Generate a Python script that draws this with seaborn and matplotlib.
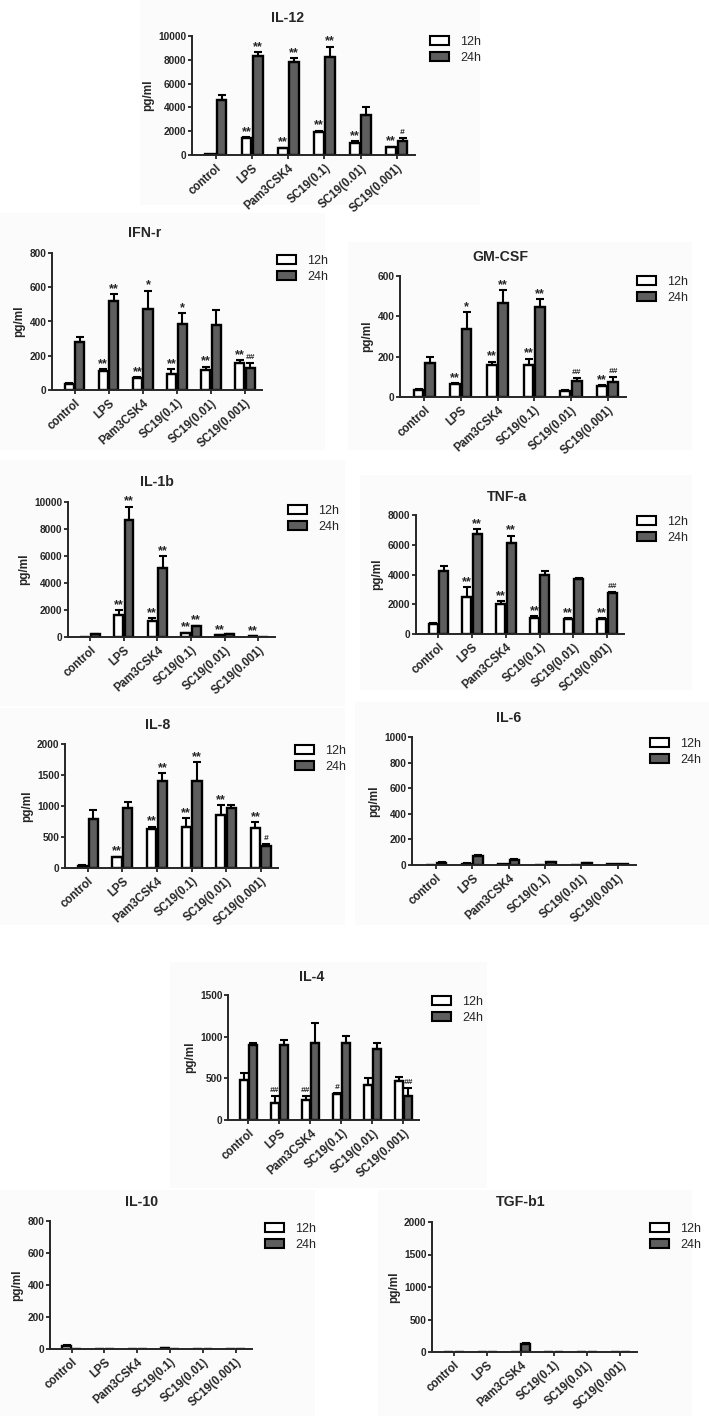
import numpy as np
import pandas as pd
import matplotlib
matplotlib.use('Agg')
import matplotlib.pyplot as plt
from matplotlib.patches import Patch, Rectangle
from matplotlib.container import BarContainer
import seaborn as sns

# ---- data (mean / sem, pg/ml) ----
groups = ['control', 'LPS', 'Pam3CSK4', 'SC19(0.1)', 'SC19(0.01)', 'SC19(0.001)']
times = ['12h', '24h']

il12_12h = [50, 1450, 580, 1950, 1050, 650]
il12_12h_sem = [0, 60, 50, 100, 100, 60]
il12_24h = [4600, 8300, 7800, 8200, 3400, 1150]
il12_24h_sem = [450, 350, 350, 900, 650, 250]
il12_sig12 = ['', '**', '**', '**', '**', '**']
il12_sig24 = ['', '**', '**', '**', '', '#']

ifn_12h = [35, 110, 70, 95, 115, 155]
ifn_12h_sem = [8, 10, 5, 25, 20, 20]
ifn_24h = [280, 520, 475, 385, 380, 130]
ifn_24h_sem = [30, 40, 105, 63, 85, 30]
ifn_sig12 = ['', '**', '**', '**', '**', '**']
ifn_sig24 = ['', '**', '*', '*', '', '##']

gm_12h = [33, 62, 158, 157, 32, 53]
gm_12h_sem = [5, 6, 17, 33, 4, 5]
gm_24h = [168, 335, 467, 445, 77, 75]
gm_24h_sem = [32, 85, 63, 40, 15, 25]
gm_sig12 = ['', '**', '**', '**', '', '**']
gm_sig24 = ['', '*', '**', '**', '##', '##']

il1b_12h = [0, 1600, 1200, 280, 120, 50]
il1b_12h_sem = [0, 400, 200, 40, 20, 10]
il1b_24h = [200, 8700, 5100, 800, 220, 0]
il1b_24h_sem = [30, 950, 900, 50, 30, 0]
il1b_sig12 = ['', '**', '**', '**', '**', '**']
il1b_sig24 = ['', '**', '**', '**', '', '']

tnf_12h = [650, 2500, 2050, 1100, 1000, 1000]
tnf_12h_sem = [100, 650, 150, 100, 50, 50]
tnf_24h = [4250, 6700, 6100, 4000, 3700, 2750]
tnf_24h_sem = [350, 350, 500, 250, 50, 50]
tnf_sig12 = ['', '**', '**', '**', '**', '**']
tnf_sig24 = ['', '**', '**', '', '', '##']

il8_12h = [40, 170, 625, 655, 855, 640]
il8_12h_sem = [5, 10, 40, 145, 155, 95]
il8_24h = [790, 965, 1410, 1405, 960, 355]
il8_24h_sem = [145, 100, 120, 305, 55, 30]
il8_sig12 = ['', '**', '**', '**', '**', '**']
il8_sig24 = ['', '', '**', '**', '', '#']

il6_12h = [2, 10, 6, 3, 3, 6]
il6_12h_sem = [0, 3, 0, 0, 0, 0]
il6_24h = [15, 70, 40, 20, 15, 4]
il6_24h_sem = [5, 10, 5, 4, 3, 0]
il6_sig12 = [''] * 6
il6_sig24 = [''] * 6

il4_12h = [485, 200, 245, 310, 425, 465]
il4_12h_sem = [80, 85, 45, 15, 75, 50]
il4_24h = [905, 895, 925, 930, 850, 290]
il4_24h_sem = [15, 70, 245, 80, 80, 90]
il4_sig12 = ['', '##', '##', '#', '', '']
il4_sig24 = ['', '', '', '', '', '##']

il10_12h = [20, 1, 3, 7, 2, 1]
il10_12h_sem = [5, 0, 0, 2, 0, 0]
il10_24h = [3, 2, 1, 3, 1, 1]
il10_24h_sem = [0, 0, 0, 0, 0, 0]
il10_sig12 = [''] * 6
il10_sig24 = [''] * 6

tgf_12h = [0, 0, 0, 0, 0, 0]
tgf_12h_sem = [0, 0, 0, 0, 0, 0]
tgf_24h = [0, 0, 123, 0, 0, 0]
tgf_24h_sem = [0, 0, 8, 0, 0, 0]
tgf_sig12 = [''] * 6
tgf_sig24 = [''] * 6

# ---- layout in pixels: axes (left, top, right, zero), legend (x, y), title (x, y), panel bg ----
W, H = 709, 1416
panels = [
    ('IL-12', il12_12h, il12_12h_sem, il12_24h, il12_24h_sem, il12_sig12, il12_sig24, 10000, 2000,
     (192, 36, 415, 155), (430, 43), (288, 18), (140, 0, 480, 205)),
    ('IFN-r', ifn_12h, ifn_12h_sem, ifn_24h, ifn_24h_sem, ifn_sig12, ifn_sig24, 800, 200,
     (52, 253, 262, 390), (277, 262), (145, 233), (0, 213, 325, 450)),
    ('GM-CSF', gm_12h, gm_12h_sem, gm_24h, gm_24h_sem, gm_sig12, gm_sig24, 600, 200,
     (400, 276, 626, 397), (637, 283), (500, 257), (348, 242, 692, 450)),
    ('IL-1b', il1b_12h, il1b_12h_sem, il1b_24h, il1b_24h_sem, il1b_sig12, il1b_sig24, 10000, 2000,
     (68, 502, 275, 637), (288, 512), (157, 482), (0, 460, 345, 706)),
    ('TNF-a', tnf_12h, tnf_12h_sem, tnf_24h, tnf_24h_sem, tnf_sig12, tnf_sig24, 8000, 2000,
     (416, 515, 624, 634), (637, 523), (507, 497), (360, 475, 692, 690)),
    ('IL-8', il8_12h, il8_12h_sem, il8_24h, il8_24h_sem, il8_sig12, il8_sig24, 2000, 500,
     (65, 744, 278, 868), (295, 752), (158, 725), (0, 708, 345, 925)),
    ('IL-6', il6_12h, il6_12h_sem, il6_24h, il6_24h_sem, il6_sig12, il6_sig24, 1000, 200,
     (412, 737, 636, 865), (650, 745), (509, 718), (355, 702, 709, 925)),
    ('IL-4', il4_12h, il4_12h_sem, il4_24h, il4_24h_sem, il4_sig12, il4_sig24, 1500, 500,
     (228, 995, 419, 1120), (432, 1003), (312, 977), (170, 962, 487, 1188)),
    ('IL-10', il10_12h, il10_12h_sem, il10_24h, il10_24h_sem, il10_sig12, il10_sig24, 800, 200,
     (50, 1221, 252, 1349), (265, 1230), (142, 1202), (0, 1190, 315, 1416)),
    ('TGF-b1', tgf_12h, tgf_12h_sem, tgf_24h, tgf_24h_sem, tgf_sig12, tgf_sig24, 2000, 500,
     (432, 1222, 637, 1352), (650, 1230), (521, 1202), (378, 1190, 692, 1416)),
]

sns.set_theme(style='ticks')
plt.rcParams['font.family'] = ['Liberation Sans', 'DejaVu Sans']

fill = {'12h': 'white', '24h': '#5e5e5e'}

fig = plt.figure(figsize=(W / 100, H / 100), dpi=100)
fig.patch.set_facecolor('white')


def draw_panel(p):
    (title, m12, s12, m24, s24, sig12, sig24, ymax, ystep,
     rect, leg, tpos, bg) = p

    # very faint panel background from the source images
    fig.patches.append(Rectangle((bg[0] / W, 1 - bg[3] / H), (bg[2] - bg[0]) / W,
                                 (bg[3] - bg[1]) / H, transform=fig.transFigure,
                                 facecolor='#fbfbfb', edgecolor='none', zorder=-5))

    l, t, r, z = rect
    ax = fig.add_axes([l / W, 1 - z / H, (r - l) / W, (z - t) / H])
    ax.set_facecolor('none')

    df = pd.DataFrame({
        'group': groups * 2,
        'time': ['12h'] * 6 + ['24h'] * 6,
        'value': list(m12) + list(m24),
    })
    sns.barplot(data=df, x='group', y='value', hue='time', order=groups, hue_order=times,
                palette=fill, edgecolor='black', linewidth=1.7, width=0.62, gap=0.14,
                errorbar=None, legend=False, ax=ax)

    sems = [s12, s24]
    sigs = [sig12, sig24]
    bar_sets = [c for c in ax.containers if isinstance(c, BarContainer)]
    for k, cont in enumerate(bar_sets):
        for i, bar in enumerate(cont.patches):
            x = bar.get_x() + bar.get_width() / 2
            top = bar.get_height()
            e = sems[k][i]
            if e > 0:
                ax.errorbar(x, top, yerr=[[0], [e]], fmt='none', ecolor='black',
                            elinewidth=1.5, capsize=2.8, capthick=1.5, zorder=1)
            s = sigs[k][i]
            if s:
                if s.startswith('#'):
                    ax.annotate(s, (x, top + e), xytext=(0, 1.5), textcoords='offset points',
                                ha='center', va='bottom', fontsize=6, style='italic',
                                fontweight='bold')
                else:
                    ax.annotate(s, (x, top + e), xytext=(0, -0.5), textcoords='offset points',
                                ha='center', va='bottom', fontsize=9, fontweight='bold')

    ax.set_xlim(-0.66, 5.5)
    ax.set_ylim(0, ymax)
    ax.set_yticks(np.arange(0, ymax + 1, ystep))
    ax.set_xlabel('')
    ax.set_ylabel('pg/ml', fontsize=8.5, fontweight='bold', labelpad=3)
    ax.set_xticks(range(len(groups)))
    ax.set_xticklabels(groups, rotation=42, ha='right', rotation_mode='anchor',
                       fontsize=8.3, fontweight='bold')
    for lab in ax.get_yticklabels():
        lab.set_fontweight('bold')
    ax.tick_params(axis='y', labelsize=7.3, length=3, width=1.3, pad=1)
    ax.tick_params(axis='x', length=3, width=1.3, pad=2)
    sns.despine(ax=ax)
    for sp in ('left', 'bottom'):
        ax.spines[sp].set_linewidth(1.4)

    fig.text(tpos[0] / W, 1 - tpos[1] / H, title, ha='center', va='center',
             fontsize=10.2, fontweight='bold')

    handles = [Patch(facecolor=fill[t_], edgecolor='black', linewidth=1.5, label=t_)
               for t_ in times]
    fig.legend(handles=handles, loc='upper left',
               bbox_to_anchor=(leg[0] / W, 1 - (leg[1] - 7) / H),
               bbox_transform=fig.transFigure, frameon=False, fontsize=9,
               borderpad=0, borderaxespad=0, handlelength=1.5, handleheight=0.65,
               labelspacing=0.3, handletextpad=0.9)
    return ax


for p in panels:
    draw_panel(p)

fig.savefig('out.png', dpi=100, facecolor='white')
